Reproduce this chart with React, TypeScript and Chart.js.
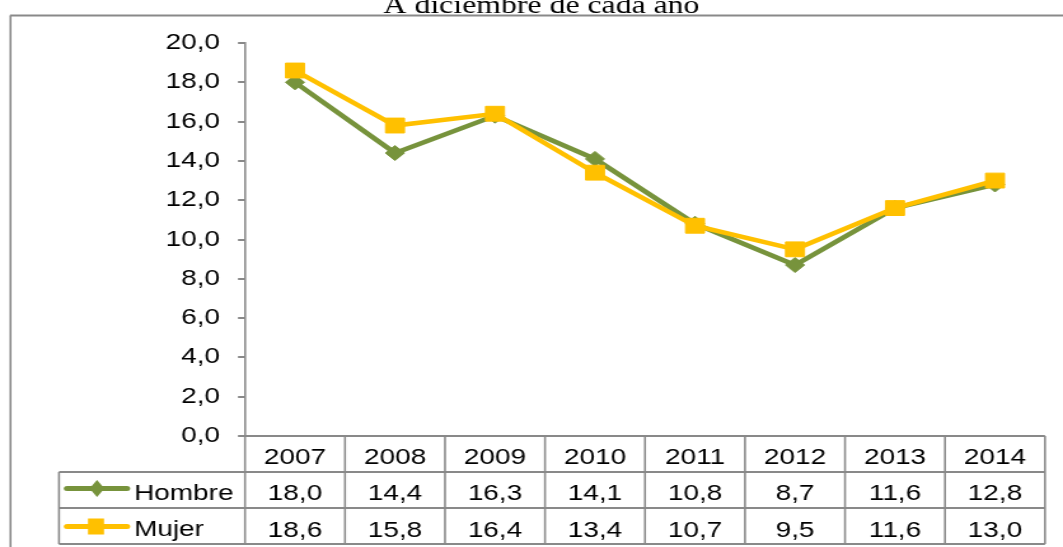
import React, { useEffect, useRef } from 'react';
import { Chart, registerables } from 'chart.js';

Chart.register(...registerables);

const title = 'A diciembre de cada año';
const years = ['2007', '2008', '2009', '2010', '2011', '2012', '2013', '2014'];
const seriesNames = ['Hombre', 'Mujer'];
const hombre = [18.0, 14.4, 16.3, 14.1, 10.8, 8.7, 11.6, 12.8];
const mujer = [18.6, 15.8, 16.4, 13.4, 10.7, 9.5, 11.6, 13.0];
const yMin = 0;
const yMax = 20;
const yStep = 2;

const W = 1063;
const H = 547;
const IW = 836; // internal canvas width, stretched horizontally to W
const SX = W / IW;
const X = (px: number) => px / SX;

const GREEN = '#77933C';
const YELLOW = '#FFC000';
const GRAY = '#898989';
const FONT = '"Liberation Sans", Arial, sans-serif';

const fmt = (v: number) => Number(v).toFixed(1).replace('.', ',');

const tablePlugin = {
  id: 'tablePlugin',
  afterDraw(chart: any) {
    const ctx: CanvasRenderingContext2D = chart.ctx;
    const xs = chart.scales.x;
    const area = chart.chartArea;
    const n = years.length;
    const cw = (area.right - area.left) / n;
    const top = area.bottom;
    const rowH = 36;
    const tableLeft = X(59);
    const line = (x1: number, y1: number, x2: number, y2: number) => {
      ctx.beginPath();
      ctx.moveTo(x1, y1);
      ctx.lineTo(x2, y2);
      ctx.stroke();
    };
    ctx.save();
    ctx.strokeStyle = GRAY;
    ctx.lineWidth = 2;
    line(area.left, top, area.right, top);
    for (let r = 1; r <= 3; r++) {
      line(tableLeft, top + r * rowH, area.right, top + r * rowH);
    }
    ctx.lineWidth = 2 / SX;
    for (let i = 0; i <= n; i++) {
      const x = area.left + i * cw;
      line(x, top, x, top + 3 * rowH);
    }
    line(tableLeft, top + rowH, tableLeft, top + 3 * rowH);

    // texts
    ctx.fillStyle = '#000';
    ctx.font = `22px ${FONT}`;
    ctx.textAlign = 'center';
    ctx.textBaseline = 'alphabetic';
    years.forEach((y, i) => ctx.fillText(y, xs.getPixelForValue(i), top + 28));
    hombre.forEach((v, i) => ctx.fillText(fmt(v), xs.getPixelForValue(i), top + rowH + 28));
    mujer.forEach((v, i) => ctx.fillText(fmt(v), xs.getPixelForValue(i), top + 2 * rowH + 28.5));

    // legend keys
    ctx.textAlign = 'left';
    ctx.fillText(seriesNames[0], X(134), top + rowH + 27.5);
    ctx.fillText(seriesNames[1], X(134), top + 2 * rowH + 28);

    ctx.lineCap = 'round';
    ctx.lineWidth = 5;
    ctx.strokeStyle = GREEN;
    const gy = top + rowH + 16.5;
    line(X(67), gy, X(127), gy);
    ctx.fillStyle = GREEN;
    const gx = X(97);
    ctx.beginPath();
    ctx.moveTo(gx, gy - 8.5);
    ctx.lineTo(gx + X(7.5), gy);
    ctx.lineTo(gx, gy + 8.5);
    ctx.lineTo(gx - X(7.5), gy);
    ctx.closePath();
    ctx.fill();

    ctx.strokeStyle = YELLOW;
    const yy = top + 2 * rowH + 18.5;
    line(X(67), yy, X(127), yy);
    ctx.fillStyle = YELLOW;
    ctx.fillRect(X(88), yy - 8, X(16), 16);

    // outer border
    ctx.lineCap = 'butt';
    ctx.strokeStyle = GRAY;
    ctx.lineWidth = 2;
    line(X(10), 15.5, IW, 15.5);
    ctx.lineWidth = 2 / SX;
    line(X(10.5), 15.5, X(10.5), H);

    // title
    ctx.fillStyle = '#000';
    ctx.font = '25px "Liberation Serif", "Times New Roman", serif';
    ctx.textAlign = 'center';
    ctx.fillText(title, X(541.5), 13);
    ctx.restore();
  },
};

export default function App() {
  const ref = useRef<HTMLCanvasElement>(null);
  useEffect(() => {
    if (!ref.current) return;
    const chart = new Chart(ref.current, {
      type: 'line',
      data: {
        labels: years,
        datasets: [
          {
            label: seriesNames[0],
            data: hombre,
            borderColor: GREEN,
            backgroundColor: GREEN,
            borderWidth: 4.5,
            pointStyle: 'rectRot',
            pointRadius: 7.5,
            pointBorderWidth: 1,
            pointBackgroundColor: GREEN,
            pointBorderColor: GREEN,
            tension: 0,
            order: 2,
          },
          {
            label: seriesNames[1],
            data: mujer,
            borderColor: YELLOW,
            backgroundColor: YELLOW,
            borderWidth: 4.5,
            pointStyle: 'rect',
            pointRadius: 10.5,
            pointBorderWidth: 1,
            pointBackgroundColor: YELLOW,
            pointBorderColor: YELLOW,
            tension: 0,
            order: 1,
          },
        ],
      },
      options: {
        responsive: false,
        animation: false,
        devicePixelRatio: 1,
        layout: { padding: { top: 43, bottom: H - 436, left: 0, right: IW - X(1045) } },
        plugins: {
          legend: { display: false },
          title: { display: false },
          tooltip: { enabled: false },
        },
        scales: {
          x: { display: false, offset: true },
          y: {
            min: yMin,
            max: yMax,
            ticks: {
              stepSize: yStep,
              callback: (v: any) => fmt(v),
              font: { family: FONT, size: 22 },
              color: '#000',
              padding: X(245) - 5.5 - X(220),
            },
            grid: { drawOnChartArea: false, drawTicks: true, tickLength: 5.5, color: GRAY, lineWidth: 2 },
            border: { display: true, color: GRAY, width: 2 / SX },
            afterFit: (s: any) => {
              s.width = X(245);
            },
          },
        },
      },
      plugins: [tablePlugin],
    } as any);
    return () => chart.destroy();
  }, []);
  return (
    <div style={{ position: 'fixed', left: 0, top: 0, width: W, height: H, background: '#fff' }}>
      <canvas ref={ref} width={IW} height={H} style={{ width: `${W}px`, height: `${H}px`, display: 'block' }} />
    </div>
  );
}
